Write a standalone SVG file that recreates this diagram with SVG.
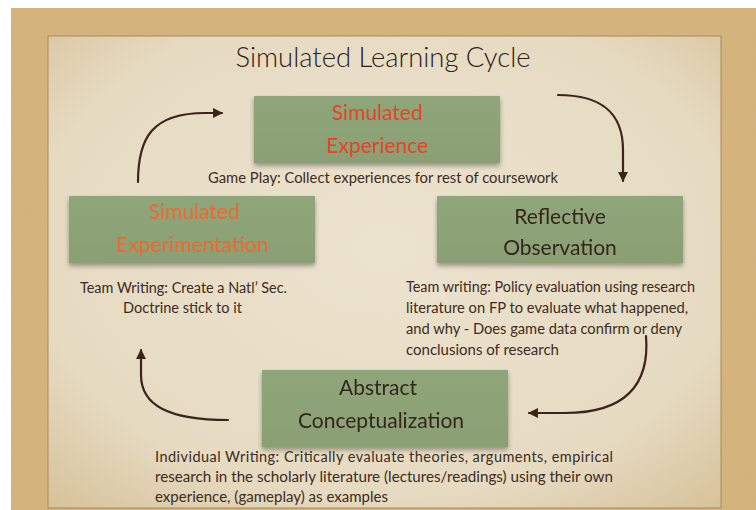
<svg xmlns="http://www.w3.org/2000/svg" width="756" height="510" viewBox="0 0 756 510">
<style>
.box{fill:url(#boxg);}
.t{font-family:Lato,"Open Sans","Liberation Sans",sans-serif;font-weight:300;fill:#2e2019;}
.lbl{font-size:21px;text-anchor:middle;font-weight:400;fill:#35261d;}
.red{fill:#ea3f26;}
.org{fill:#f2662c;}
.cap{font-size:14.5px;font-weight:400;fill:#3d2c22;}
.conn{fill:none;stroke:#3b2418;stroke-width:2.2;stroke-linecap:round;}
</style>
<defs>
<marker id="ah" viewBox="0 0 10 10" refX="9" refY="5" markerWidth="4.5" markerHeight="4.5" orient="auto" markerUnits="strokeWidth">
<path d="M0,0 L10,5 L0,10 z" fill="#3b2418"/>
</marker>
<linearGradient id="boxg" x1="0" y1="0" x2="0" y2="1">
<stop offset="0" stop-color="#8fa67b"/>
<stop offset="1" stop-color="#8a9f74"/>
</linearGradient>
<radialGradient id="paper" cx="0.5" cy="0.45" r="0.75">
<stop offset="0" stop-color="#ece3cf"/>
<stop offset="0.7" stop-color="#e6dac1"/>
<stop offset="1" stop-color="#d6c198"/>
</radialGradient>
<filter id="noise" x="0" y="0" width="1" height="1">
<feTurbulence type="fractalNoise" baseFrequency="0.9" numOctaves="2" seed="3"/>
<feColorMatrix values="0 0 0 0 0.55 0 0 0 0 0.42 0 0 0 0 0.22 0 0 0 0.35 0"/>
<feComposite in2="SourceGraphic" operator="in"/>
</filter>
<filter id="sh" x="-10%" y="-10%" width="120%" height="140%">
<feGaussianBlur in="SourceAlpha" stdDeviation="2.5"/>
<feOffset dy="3"/>
<feComponentTransfer><feFuncA type="linear" slope="0.35"/></feComponentTransfer>
<feMerge><feMergeNode/><feMergeNode in="SourceGraphic"/></feMerge>
</filter>
</defs>
<rect x="0" y="0" width="756" height="510" fill="#ffffff"/>
<rect x="11" y="8" width="745" height="502" fill="#d8b47c"/>
<rect x="11" y="8" width="745" height="502" fill="#d8b47c" filter="url(#noise)"/>
<g id="paper-sheet">
<rect x="48" y="36" width="673" height="472" fill="url(#paper)" stroke="#a88a5a" stroke-width="1"/>
</g>
<g id="title">
<text class="t" x="383" y="67" font-size="28" text-anchor="middle" textLength="295" lengthAdjust="spacingAndGlyphs">Simulated Learning Cycle</text>
</g>
<g id="connectors">
<path class="conn" marker-end="url(#ah)" d="M138,182 C138,138 152,113 205,113 L222,113"/>
<path class="conn" marker-end="url(#ah)" d="M558,95 C598,95 623,110 623,150 L623,181"/>
<path class="conn" marker-end="url(#ah)" d="M646,336 C650,385 625,413 565,413 L529,413"/>
<path class="conn" marker-end="url(#ah)" d="M228,420 C168,420 141,405 141,375 L141,350"/>
</g>
<g id="node-experience" filter="url(#sh)">
<rect class="box" x="254" y="96" width="246" height="67"/>
<text class="t lbl red" x="377" y="120">Simulated</text>
<text class="t lbl red" x="377" y="153">Experience</text>
</g>
<g id="caption-experience">
<text class="t cap" x="208" y="183" textLength="350" lengthAdjust="spacingAndGlyphs">Game Play: Collect experiences for rest of coursework</text>
</g>
<g id="node-experimentation" filter="url(#sh)">
<rect class="box" x="69" y="196" width="246" height="67"/>
<text class="t lbl org" x="194" y="219">Simulated</text>
<text class="t lbl org" x="192" y="252">Experimentation</text>
</g>
<g id="caption-experimentation">
<text class="t cap" x="80" y="293" textLength="207" lengthAdjust="spacingAndGlyphs">Team Writing: Create a Natl’ Sec.</text>
<text class="t cap" x="123" y="313" textLength="119" lengthAdjust="spacingAndGlyphs">Doctrine stick to it</text>
</g>
<g id="node-reflective" filter="url(#sh)">
<rect class="box" x="437" y="196" width="246" height="67"/>
<text class="t lbl" x="560" y="224">Reflective</text>
<text class="t lbl" x="560" y="255">Observation</text>
</g>
<g id="caption-reflective">
<text class="t cap" x="406" y="292" textLength="289" lengthAdjust="spacingAndGlyphs">Team writing: Policy evaluation using research</text>
<text class="t cap" x="406" y="313" textLength="282" lengthAdjust="spacingAndGlyphs">literature on FP to evaluate what happened,</text>
<text class="t cap" x="406" y="334" textLength="276" lengthAdjust="spacingAndGlyphs">and why - Does game data confirm or deny</text>
<text class="t cap" x="406" y="355" textLength="153" lengthAdjust="spacingAndGlyphs">conclusions of research</text>
</g>
<g id="node-abstract" filter="url(#sh)">
<rect class="box" x="262" y="370" width="246" height="77"/>
<text class="t lbl" x="378" y="395">Abstract</text>
<text class="t lbl" x="381" y="428">Conceptualization</text>
</g>
<g id="caption-abstract">
<text class="t cap" x="155" y="462" textLength="458" lengthAdjust="spacing">Individual Writing: Critically evaluate theories, arguments, empirical</text>
<text class="t cap" x="155" y="482" textLength="458" lengthAdjust="spacingAndGlyphs">research in the scholarly literature (lectures/readings)  using their own</text>
<text class="t cap" x="155" y="502" textLength="233" lengthAdjust="spacingAndGlyphs">experience, (gameplay) as examples</text>
</g>
</svg>
